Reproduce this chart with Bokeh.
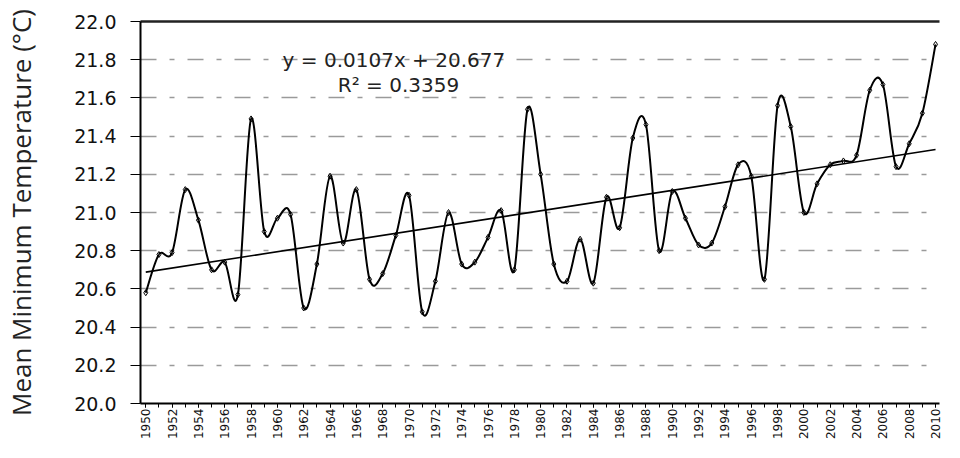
import numpy as np
from bokeh.plotting import figure
from bokeh.models import FixedTicker, LinearAxis, Label, Range1d, ColumnDataSource
from bokeh.embed import file_html
from bokeh.resources import INLINE

# ---- data ----
years = list(range(1950, 2011))
temps = [20.58, 20.78, 20.79, 21.12, 20.96, 20.70, 20.74, 20.57, 21.49, 20.90,
         20.97, 20.99, 20.50, 20.73, 21.19, 20.84, 21.12, 20.65, 20.68, 20.88,
         21.09, 20.48, 20.64, 21.00, 20.73, 20.74, 20.87, 21.01, 20.70, 21.54,
         21.20, 20.73, 20.64, 20.86, 20.63, 21.08, 20.92, 21.39, 21.46, 20.80,
         21.11, 20.97, 20.83, 20.84, 21.03, 21.25, 21.19, 20.65, 21.56, 21.45,
         21.00, 21.15, 21.25, 21.27, 21.30, 21.64, 21.67, 21.24, 21.36, 21.52,
         21.88]
label_years = list(range(1950, 2011, 2))
y_ticks = [20.0, 20.2, 20.4, 20.6, 20.8, 21.0, 21.2, 21.4, 21.6, 21.8, 22.0]
slope = 0.0107
intercept = 20.677
r2 = 0.3359
y_title = "Mean Minimum Temperature (\u00b0C)"

# ---- smoothed curve (Excel-like Catmull-Rom Bezier through the data points) ----
xs = np.array(years, dtype=float)
ys = np.array(temps, dtype=float)
n = len(xs)
x0, y0, x1, y1, cx0, cy0, cx1, cy1 = [], [], [], [], [], [], [], []
for i in range(n - 1):
    ip = max(i - 1, 0)
    inx = min(i + 2, n - 1)
    x0.append(xs[i]); y0.append(ys[i])
    x1.append(xs[i + 1]); y1.append(ys[i + 1])
    cx0.append(xs[i] + (xs[i + 1] - xs[ip]) / 6.0)
    cy0.append(ys[i] + (ys[i + 1] - ys[ip]) / 6.0)
    cx1.append(xs[i + 1] - (xs[inx] - xs[i]) / 6.0)
    cy1.append(ys[i + 1] - (ys[inx] - ys[i]) / 6.0)
bez = ColumnDataSource(dict(x0=x0, y0=y0, x1=x1, y1=y1, cx0=cx0, cy0=cy0, cx1=cx1, cy1=cy1))

# trend line from regression coefficients (x = 1..61)
trend_x = [years[0], years[-1]]
trend_y = [intercept + slope * (years[0] - years[0] + 1),
           intercept + slope * (years[-1] - years[0] + 1)]

p = figure(width=944, height=442, output_backend="svg", toolbar_location=None,
           x_range=Range1d(1949.6, 2010.3), y_range=Range1d(20.0, 22.0),
           min_border_left=136, min_border_right=5, min_border_top=21, min_border_bottom=36)
p.outline_line_color = None
p.background_fill_color = "white"
p.border_fill_color = "white"

p.xgrid.visible = False
p.ygrid.ticker = FixedTicker(ticks=y_ticks)
p.ygrid.grid_line_color = "#9a9a9a"
p.ygrid.grid_line_width = 1.6
p.ygrid.grid_line_dash = "16 13 5 13"

p.bezier(x0="x0", y0="y0", x1="x1", y1="y1", cx0="cx0", cy0="cy0", cx1="cx1", cy1="cy1",
         source=bez, line_color="black", line_width=2)
p.scatter(years, temps, marker="diamond", size=6, line_color="black", fill_color=None, line_width=1)
p.line(trend_x, trend_y, line_color="black", line_width=1.6)

# axes
yax = p.yaxis[0]
yax.ticker = FixedTicker(ticks=y_ticks)
yax.major_label_overrides = {t: f"{t:.1f}" for t in y_ticks}
yax.axis_line_width = 2
yax.axis_line_color = "black"
yax.major_tick_out = 10
yax.major_tick_in = 0
yax.minor_tick_line_color = None
yax.major_label_standoff = 14
yax.major_label_text_font = "DejaVu Sans"
yax.major_label_text_font_size = "19px"
yax.major_label_text_color = "#111111"
yax.axis_label = y_title
yax.axis_label_text_font = "Open Sans"
yax.axis_label_text_font_style = "normal"
yax.axis_label_text_font_size = "26px"
yax.axis_label_text_color = "#222222"
yax.axis_label_standoff = 32

xax = p.xaxis[0]
xax.ticker = FixedTicker(ticks=label_years, minor_ticks=years)
xax.major_label_orientation = np.pi / 2
xax.axis_line_width = 2
xax.axis_line_color = "black"
xax.major_tick_out = 4
xax.major_tick_in = 0
xax.minor_tick_out = 4
xax.minor_tick_in = 0
xax.minor_tick_line_color = "black"
xax.major_label_standoff = 1
xax.major_label_text_font = "DejaVu Sans"
xax.major_label_text_font_size = "12px"
xax.major_label_text_color = "#111111"

# top frame edge: an axis with no ticks and no labels
top = LinearAxis(ticker=FixedTicker(ticks=[]), major_tick_line_color=None,
                 minor_tick_line_color=None, axis_line_width=2.5,
                 axis_line_color="#222222", major_label_standoff=0)
p.add_layout(top, "above")

p.add_layout(Label(x=1968.85, y=21.8, text=f"y = {slope}x + {intercept}",
                   text_align="center", text_baseline="middle",
                   text_font="DejaVu Sans", text_font_size="20px", text_color="#222222"))
p.add_layout(Label(x=1969.2, y=21.67, text=f"R\u00b2 = {r2}",
                   text_align="center", text_baseline="middle",
                   text_font="DejaVu Sans", text_font_size="20px", text_color="#222222"))

open("out.html", "w").write(file_html(p, INLINE))
